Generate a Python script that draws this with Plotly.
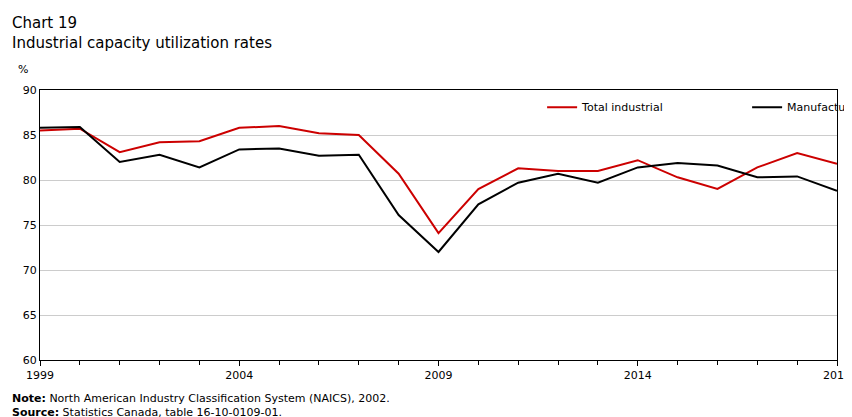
import plotly.graph_objects as go

years = list(range(1999, 2020))
total_industrial = [85.5, 85.7, 83.1, 84.2, 84.3, 85.8, 86.0, 85.2, 85.0, 80.7, 74.1,
                    79.0, 81.3, 81.0, 81.0, 82.2, 80.3, 79.0, 81.4, 83.0, 81.8]
manufacturing = [85.8, 85.9, 82.0, 82.8, 81.4, 83.4, 83.5, 82.7, 82.8, 76.1, 72.0,
                 77.3, 79.7, 80.7, 79.7, 81.4, 81.9, 81.6, 80.3, 80.4, 78.8]
x_ticks = [1999, 2004, 2009, 2014, 2019]
y_ticks = [60, 65, 70, 75, 80, 85, 90]

fig = go.Figure()
fig.add_trace(go.Scatter(x=years, y=total_industrial, mode="lines", name="Total industrial",
                         line=dict(color="#cc0000", width=2)))
fig.add_trace(go.Scatter(x=years, y=manufacturing, mode="lines", name="Manufacturing",
                         line=dict(color="#000000", width=2)))

fig.update_layout(
    width=852, height=417, plot_bgcolor="white", paper_bgcolor="white",
    font=dict(family="DejaVu Sans", size=11, color="black"),
    margin=dict(l=32, r=23, t=82, b=65, autoexpand=False),
    showlegend=True,
    legend=dict(orientation="h", x=0.63, y=0.99, xanchor="left", yanchor="top",
                font=dict(size=11), itemwidth=30, entrywidth=160, bgcolor="rgba(0,0,0,0)"),
    xaxis=dict(range=[1999, 2019], tickvals=x_ticks, showgrid=False, showline=True, automargin=False,
               linecolor="black", mirror=True, ticks="outside", ticklen=5, tickcolor="black",
               minor=dict(dtick=1, ticks="outside", ticklen=4, tickcolor="black")),
    yaxis=dict(range=[60, 90], tickvals=y_ticks, showgrid=True, gridcolor="#cccccc", automargin=False,
               showline=True, linecolor="black", mirror=True, ticks="", zeroline=False),
)
fig.add_annotation(text="Chart 19<br>Industrial capacity utilization rates", xref="paper", yref="paper",
                   x=-0.038, y=1.0, yshift=78, xanchor="left", yanchor="top", align="left",
                   showarrow=False, font=dict(size=15))
fig.add_annotation(text="%", xref="paper", yref="paper", x=-0.03, y=1.0, yshift=12,
                   xanchor="left", yanchor="bottom", showarrow=False, font=dict(size=11))
fig.add_annotation(text="<b>Note:</b> North American Industry Classification System (NAICS), 2002.<br><b>Source:</b> Statistics Canada, table 16-10-0109-01.",
                   xref="paper", yref="paper", x=-0.038, y=0, yshift=-30, xanchor="left", yanchor="top",
                   align="left", showarrow=False, font=dict(size=11))
fig.write_html("out.html")
